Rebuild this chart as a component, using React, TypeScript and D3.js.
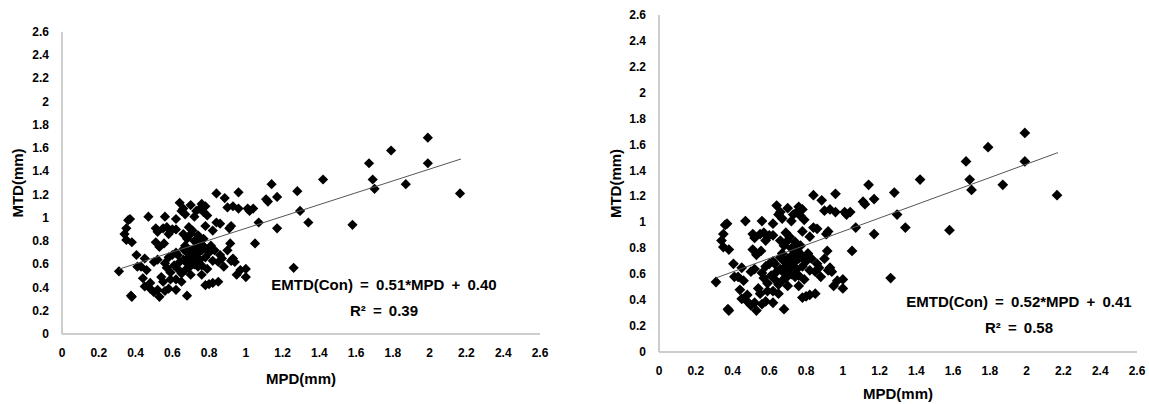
import React from 'react';
import * as d3 from 'd3';

// MPD (x) and MTD (y) readings, same sample in both panels
const mpd = [
  0.31, 0.34, 0.35, 0.36, 0.35, 0.38, 0.37, 0.375, 0.38, 0.405, 0.41, 0.44, 0.45, 0.45, 0.46,
  0.47, 0.48, 0.50, 0.51, 0.51, 0.52, 0.52, 0.53, 0.54, 0.55, 0.555, 0.56, 0.56, 0.57, 0.58,
  0.59, 0.60, 0.61, 0.62, 0.62, 0.62, 0.63, 0.64, 0.65, 0.65, 0.66, 0.67, 0.67, 0.68, 0.68,
  0.69, 0.70, 0.70, 0.71, 0.71, 0.72, 0.73, 0.73, 0.74, 0.74, 0.75, 0.755, 0.76, 0.76, 0.77,
  0.78, 0.78, 0.78, 0.79, 0.80, 0.81, 0.82, 0.82, 0.84, 0.84, 0.85, 0.86, 0.87, 0.885, 0.90,
  0.91, 0.915, 0.92, 0.93, 0.94, 0.95, 0.96, 0.96, 1.00, 1.00, 1.01, 1.04, 1.05, 1.07, 1.11,
  1.14, 1.17, 1.17, 1.26, 1.28, 1.295, 1.34, 1.42, 1.58, 1.67, 1.69, 1.70, 1.79, 1.87, 1.99,
  1.99, 2.165,
  0.66, 0.68, 0.69, 0.70, 0.71, 0.72, 0.72, 0.73, 0.74, 0.75, 0.76, 0.70, 0.69, 0.67, 0.64,
  0.63, 0.58, 0.57, 0.55, 0.59, 0.62, 0.65, 0.53, 0.52, 0.58, 0.60, 0.66, 0.68, 0.70, 0.72,
  0.74, 0.77, 0.78, 0.80, 0.83, 0.85, 0.88, 0.90, 0.92, 0.97, 0.79, 0.73, 0.66, 0.78, 0.50,
  0.43, 0.48, 0.56, 0.62, 0.76, 0.82, 0.86, 0.93, 1.02, 1.12,
];
const mtd = [
  0.54, 0.86, 0.91, 0.98, 0.81, 0.79, 0.99, 0.33, 0.32, 0.68, 0.58, 0.48, 0.65, 0.41, 0.55,
  1.01, 0.39, 0.36, 0.91, 0.79, 0.64, 0.38, 0.32, 0.49, 0.91, 0.78, 1.01, 0.61, 0.92, 0.39,
  0.53, 0.68, 0.59, 0.90, 0.99, 0.70, 0.56, 1.13, 1.06, 0.52, 0.73, 0.76, 1.03, 0.33, 0.61,
  0.92, 1.11, 0.51, 0.89, 0.63, 1.01, 0.75, 0.66, 0.85, 0.58, 1.08, 0.78, 1.12, 0.59, 1.05,
  0.93, 0.66, 0.42, 0.56, 0.43, 0.76, 0.89, 0.63, 1.21, 0.96, 0.45, 0.68, 0.65, 1.17, 1.09,
  0.91, 0.78, 0.93, 0.65, 0.62, 0.51, 1.22, 1.08, 0.56, 0.49, 1.08, 1.08, 0.78, 0.96, 1.16,
  1.29, 1.18, 0.91, 0.57, 1.23, 1.06, 0.96, 1.33, 0.94, 1.47, 1.33, 1.25, 1.58, 1.29, 1.69,
  1.47, 1.21,
  0.64, 0.70, 0.66, 0.72, 0.68, 0.60, 0.74, 0.62, 0.70, 0.64, 0.72, 0.60, 0.57, 0.55, 0.62,
  0.68, 0.66, 0.57, 0.45, 0.47, 0.47, 0.45, 0.75, 0.88, 0.86, 0.90, 0.86, 0.82, 0.86, 0.80,
  0.80, 0.82, 0.74, 0.70, 0.72, 0.62, 0.58, 0.72, 0.63, 0.55, 1.02, 1.06, 1.08, 1.10, 0.62,
  0.58, 0.44, 0.37, 0.38, 0.51, 0.44, 0.95, 1.10, 1.06, 1.14,
];

const ticks = [0, 0.2, 0.4, 0.6, 0.8, 1, 1.2, 1.4, 1.6, 1.8, 2, 2.2, 2.4, 2.6];
const slopes = [0.51, 0.52];
const intercepts = [0.40, 0.41];
const eqLabels = ['EMTD(Con) = 0.51*MPD + 0.40', 'EMTD(Con) = 0.52*MPD + 0.41'];
const r2Labels = ['R\u00b2 = 0.39', 'R\u00b2 = 0.58'];
const fitRange = [0.31, 2.17];

const font = '"Liberation Sans", Arial, sans-serif';

type PanelProps = {
  idx: number;
  left: number; right: number; top: number; bottom: number;
  yTitleX: number; xTitleY: number;
  eqX: number; eqY: number;
  markSize: number;
};

function Panel(p: PanelProps) {
  const x = d3.scaleLinear().domain([0, 2.6]).range([p.left, p.right]);
  const y = d3.scaleLinear().domain([0, 2.6]).range([p.bottom, p.top]);
  const sym = d3.symbol().type(d3.symbolSquare).size(p.markSize)();
  const fit = d3.line<number>()
    .x(d => x(d))
    .y(d => y(slopes[p.idx] * d + intercepts[p.idx]));
  const fmt = d3.format('~g');

  return (
    <g fontFamily={font} fontWeight="bold" fill="#000">
      {ticks.map(t => (
        <text key={'y' + t} x={p.left - 13} y={y(t) + 4} fontSize={12} textAnchor="end">{fmt(t)}</text>
      ))}
      {ticks.map(t => (
        <text key={'x' + t} x={x(t)} y={p.bottom + 23} fontSize={12} textAnchor="middle">{fmt(t)}</text>
      ))}
      <line x1={p.left} x2={p.left} y1={p.top} y2={p.bottom} stroke="#bdbdbd" strokeWidth={1.5} />
      <line x1={p.left} x2={p.right} y1={p.bottom} y2={p.bottom} stroke="#bdbdbd" strokeWidth={1.5} />
      {mpd.map((v, i) => (
        <path key={i} d={sym || ''} transform={`translate(${x(v)},${y(mtd[i])}) rotate(45)`} fill="#000" />
      ))}
      <path d={fit(fitRange) || ''} fill="none" stroke="#555" strokeWidth={1} />
      <text x={p.yTitleX} y={(p.top + p.bottom) / 2} fontSize={15} textAnchor="middle"
        transform={`rotate(-90, ${p.yTitleX}, ${(p.top + p.bottom) / 2})`} dy="0.35em">MTD(mm)</text>
      <text x={(p.left + p.right) / 2} y={p.xTitleY} fontSize={15} textAnchor="middle">MPD(mm)</text>
      <text x={p.eqX} y={p.eqY} fontSize={15} textAnchor="middle" wordSpacing={3}>{eqLabels[p.idx]}</text>
      <text x={p.eqX} y={p.eqY + 26} fontSize={15} textAnchor="middle" wordSpacing={3}>{r2Labels[p.idx]}</text>
    </g>
  );
}

export default function App() {
  return (
    <svg width={1149} height={404} style={{ position: 'absolute', left: 0, top: 0, background: '#fff' }}>
      <rect width={1149} height={404} fill="#fff" />
      <Panel idx={0} left={62} right={540} top={32} bottom={334} yTitleX={18} xTitleY={384}
        eqX={384} eqY={290} markSize={52} />
      <Panel idx={1} left={659} right={1137} top={15} bottom={352} yTitleX={616} xTitleY={399}
        eqX={1019} eqY={307} markSize={58} />
    </svg>
  );
}
